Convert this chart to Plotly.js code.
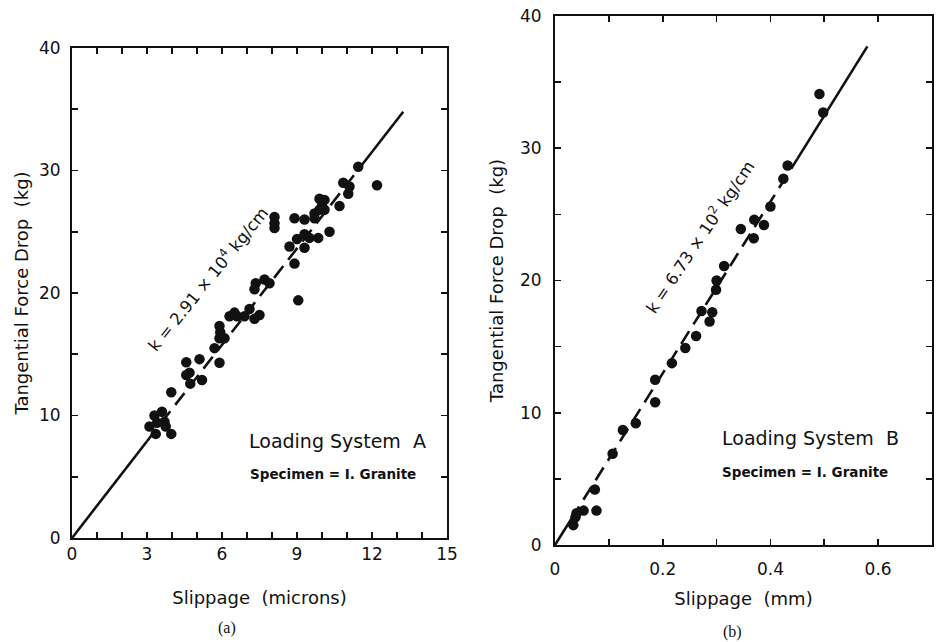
<!DOCTYPE html>
<html>
<head>
<meta charset="utf-8">
<script src="https://cdn.plot.ly/plotly-3.0.1.min.js"></script>
<style>html,body{margin:0;padding:0;background:#fff;}#chart{width:937px;height:642px;}</style>
</head>
<body>
<div id="chart"></div>
<script>
// ---- Panel (a): Loading System A, slippage in microns ----
const slipA = [3.1,3.3,3.35,3.4,3.6,3.7,3.75,3.97,3.97,
  4.57,4.57,4.7,4.73,5.1,5.2,
  5.7,5.9,5.9,5.93,5.9,6.1,6.3,6.5,6.6,6.9,7.1,7.3,7.3,7.35,7.5,7.7,7.9,
  8.1,8.1,8.1,8.7,8.9,8.9,9.05,9.0,9.3,9.3,9.3,9.5,9.7,9.7,9.85,9.9,9.9,10.0,10.1,10.1,10.3,
  10.7,10.85,11.05,11.1,11.45,12.2];
const forceA = [9.1,10.0,8.5,9.4,10.3,9.5,9.1,8.5,11.9,
  14.35,13.3,13.5,12.6,14.6,12.9,
  15.5,14.3,17.3,16.8,16.3,16.3,18.1,18.4,18.1,18.1,18.7,17.9,20.3,20.8,18.2,21.1,20.8,
  26.2,25.7,25.3,23.8,22.4,26.1,19.4,24.4,24.8,23.7,26.0,24.5,26.1,26.5,24.5,27.7,26.8,27.1,27.6,26.8,25.0,
  27.1,29.0,28.1,28.7,30.3,28.8];
// fitted line of panel (a): solid / dashed / solid pieces
const fitA_solid1_x = [0, 3.0],   fitA_solid1_y = [0, 7.9];
const fitA_dash_x   = [3.0, 11.5], fitA_dash_y  = [7.9, 30.2];
const fitA_solid2_x = [11.5, 13.25], fitA_solid2_y = [30.2, 34.8];

// ---- Panel (b): Loading System B, slippage in mm ----
const slipB = [0.034,0.038,0.040,0.053,0.077,0.074,0.107,0.126,0.150,
  0.186,0.186,0.217,0.242,0.262,0.272,0.287,0.292,0.299,0.300,0.314,
  0.345,0.369,0.370,0.388,0.400,0.424,0.432,0.491,0.498];
const forceB = [1.5,2.1,2.4,2.6,2.6,4.2,6.9,8.7,9.2,
  12.5,10.8,13.75,14.9,15.8,17.7,16.9,17.6,19.3,20.0,21.1,
  23.9,23.2,24.6,24.2,25.6,27.7,28.7,34.1,32.7];
const fitB_solid1_x = [0, 0.03],   fitB_solid1_y = [0, 1.95];
const fitB_dash_x   = [0.03, 0.45], fitB_dash_y  = [1.95, 29.2];
const fitB_solid2_x = [0.45, 0.58], fitB_solid2_y = [29.2, 37.7];

// tick labels
const xTickValsA = [0,1,2,3,4,5,6,7,8,9,10,11,12,13,14,15];
const xTickTextA = ['0','','','3','','','6','','','9','','','12','','','15'];
const yTickVals = [0,5,10,15,20,25,30,35,40];
const yTickText = ['0','','10','','20','','30','','40'];
const xTickValsB = [0,0.1,0.2,0.3,0.4,0.5,0.6,0.7];
const xTickTextB = ['0','','0.2','','0.4','','0.6',''];

const FONT = 'DejaVu Sans, Arial, sans-serif';
const ink = '#111';

function pts(x, y, xa, ya) {
  return {x: x, y: y, xaxis: xa, yaxis: ya, type: 'scatter', mode: 'markers',
    marker: {color: ink, size: 10.5}, hoverinfo: 'x+y', showlegend: false};
}
function seg(x, y, xa, ya, dash) {
  return {x: x, y: y, xaxis: xa, yaxis: ya, type: 'scatter', mode: 'lines',
    line: {color: ink, width: 2.6, dash: dash}, hoverinfo: 'skip', showlegend: false};
}

const traces = [
  seg(fitA_solid1_x, fitA_solid1_y, 'x', 'y', 'solid'),
  seg(fitA_dash_x, fitA_dash_y, 'x', 'y', '15px,8px'),
  seg(fitA_solid2_x, fitA_solid2_y, 'x', 'y', 'solid'),
  pts(slipA, forceA, 'x', 'y'),
  seg(fitB_solid1_x, fitB_solid1_y, 'x2', 'y2', 'solid'),
  seg(fitB_dash_x, fitB_dash_y, 'x2', 'y2', '15px,8px'),
  seg(fitB_solid2_x, fitB_solid2_y, 'x2', 'y2', 'solid'),
  pts(slipB, forceB, 'x2', 'y2')
];

const axisCommon = {
  showgrid: false, zeroline: false, showline: true, linecolor: ink, linewidth: 2,
  mirror: 'ticks', ticks: 'inside', ticklen: 6, tickwidth: 1.6, tickcolor: ink,
  tickfont: {family: FONT, size: 17, color: ink}, fixedrange: true
};
const titleFont = {family: FONT, size: 18, color: ink};

function ann(text, px, py, size, extra) {
  return Object.assign({text: text, xref: 'paper', yref: 'paper', x: px/937, y: 1 - py/642,
    xanchor: 'center', yanchor: 'middle', showarrow: false,
    font: {family: FONT, size: size, color: ink}}, extra || {});
}

const layout = {
  width: 937, height: 642,
  margin: {l: 0, r: 0, t: 0, b: 0},
  paper_bgcolor: '#fff', plot_bgcolor: '#fff',
  font: {family: FONT, color: ink},
  xaxis: Object.assign({}, axisCommon, {
    domain: [72/937, 447/937], range: [0, 15], anchor: 'y',
    tickmode: 'array', tickvals: xTickValsA, ticktext: xTickTextA,
    title: {text: 'Slippage  (microns)', font: titleFont, standoff: 28}
  }),
  yaxis: Object.assign({}, axisCommon, {
    domain: [1 - 538/642, 1 - 48/642], range: [0, 40], anchor: 'x',
    tickmode: 'array', tickvals: yTickVals, ticktext: yTickText, ticklabelstandoff: 6,
    title: {text: 'Tangential Force Drop  (kg)', font: titleFont, standoff: 6}
  }),
  xaxis2: Object.assign({}, axisCommon, {
    domain: [555/937, 932/937], range: [0, 0.7], anchor: 'y2',
    tickmode: 'array', tickvals: xTickValsB, ticktext: xTickTextB, ticklabelstandoff: 8,
    title: {text: 'Slippage  (mm)', font: titleFont, standoff: 14}
  }),
  yaxis2: Object.assign({}, axisCommon, {
    domain: [1 - 545/642, 1 - 16/642], range: [0, 40], anchor: 'x2',
    tickmode: 'array', tickvals: yTickVals, ticktext: yTickText, ticklabelstandoff: 8,
    title: {text: 'Tangential Force Drop  (kg)', font: titleFont, standoff: 12}
  }),
  annotations: [
    ann('Loading System  A', 337, 441, 19),
    ann('<b>Specimen = I. Granite</b>', 333, 474, 13.5),
    ann('k = 2.91 × 10<sup>4</sup> kg/cm', 207, 279, 16.5, {textangle: -51}),
    ann('(a)', 227, 628, 16, {font: {family: 'Liberation Serif, serif', size: 16, color: ink}}),
    ann('Loading System  B', 810, 438, 19),
    ann('<b>Specimen = I. Granite</b>', 805, 472, 13.5),
    ann('k = 6.73 × 10<sup>2</sup> kg/cm', 699, 237, 16.5, {textangle: -56}),
    ann('(b)', 732, 632, 16, {font: {family: 'Liberation Serif, serif', size: 16, color: ink}})
  ]
};

Plotly.newPlot('chart', traces, layout, {displayModeBar: false, staticPlot: true});
</script>
</body>
</html>
